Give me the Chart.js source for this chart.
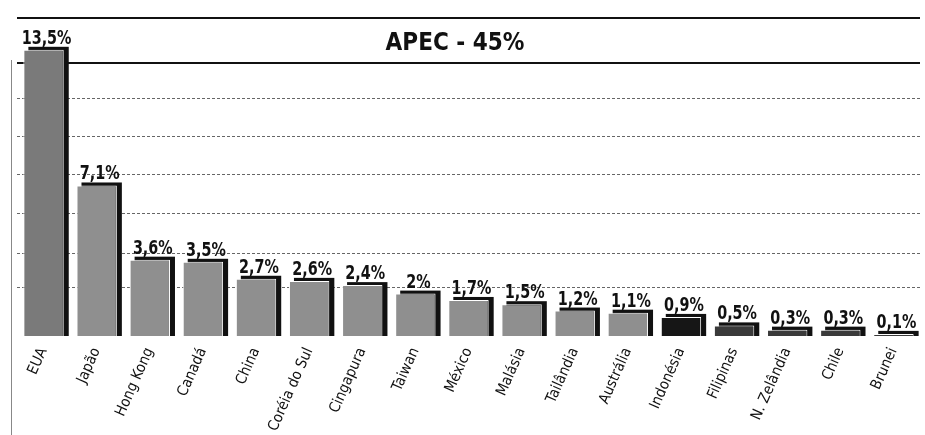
<!DOCTYPE html>
<html>
<head>
<meta charset="utf-8">
<script src="https://cdn.jsdelivr.net/npm/chart.js@4.4.0/dist/chart.umd.min.js"></script>
<style>
  body { margin: 0; background: #fff; }
  #wrap { width: 925px; height: 435px; }
</style>
</head>
<body>
<div id="wrap"><canvas id="apecChart" width="925" height="435"></canvas></div>
<script>
// APEC share values
const categories = ['EUA', 'Japão', 'Hong Kong', 'Canadá', 'China', 'Coréia do Sul', 'Cingapura', 'Taiwan',
    'México', 'Malásia', 'Tailândia', 'Austrália', 'Indonésia', 'Filipinas', 'N. Zelândia', 'Chile', 'Brunei'];
const shares = [13.5, 7.1, 3.6, 3.5, 2.7, 2.6, 2.4, 2, 1.7, 1.5, 1.2, 1.1, 0.9, 0.5, 0.3, 0.3, 0.1];
const chartTitle = 'APEC - 45%';
const gridValues = [2.3, 3.9, 5.8, 7.6, 9.4, 11.2, 12.9, 15];
const solidGridValues = [12.9, 15];

const narrow = "'Liberation Sans Narrow', 'DejaVu Sans Condensed', 'Liberation Sans', sans-serif";
Chart.defaults.font.family = narrow;

const barColors = categories.map((c, i) => {
    if (i === 0) return '#7a7a7a';
    if (i === 12) return '#161616';
    if (i > 12) return '#3a3a3a';
    return '#8f8f8f';
});

const fmt = v => String(v).replace('.', ',') + '%';

// squeezed text, the paper uses a condensed face
function narrowText(ctx, text, x, y, squeeze) {
    ctx.save();
    ctx.translate(x, y);
    ctx.scale(squeeze, 1);
    ctx.fillText(text, 0, 0);
    ctx.restore();
}

// dark offset block behind every bar (the print "shadow")
const shadowPlugin = {
    id: 'shadow',
    beforeDatasetsDraw(chart) {
        const ctx = chart.ctx;
        const meta = chart.getDatasetMeta(0);
        ctx.save();
        ctx.fillStyle = '#111';
        meta.data.forEach(bar => {
            const { x, y, base, width } = bar.getProps(['x', 'y', 'base', 'width'], true);
            ctx.fillRect(x - width / 2 + 5, y - 3, width, base - y + 3);
        });
        ctx.restore();
    }
};

// value labels, title and frame line
const labelPlugin = {
    id: 'labels',
    afterDatasetsDraw(chart) {
        const ctx = chart.ctx;
        const meta = chart.getDatasetMeta(0);
        const area = chart.chartArea;
        ctx.save();
        ctx.fillStyle = '#111';
        ctx.font = 'bold 19px ' + narrow;
        ctx.textAlign = 'center';
        ctx.textBaseline = 'alphabetic';
        meta.data.forEach((bar, i) => {
            narrowText(ctx, fmt(shares[i]), bar.x + 3, bar.y - 6, 0.84);
        });

        ctx.font = 'bold 24px ' + narrow;
        ctx.fillText(chartTitle, 455, area.top + 32);

        ctx.strokeStyle = '#888';
        ctx.lineWidth = 1;
        ctx.beginPath();
        ctx.moveTo(11.5, area.top + 42);
        ctx.lineTo(11.5, chart.height);
        ctx.stroke();
        ctx.restore();
    }
};

const ctx = document.getElementById('apecChart').getContext('2d');
const apecChart = new Chart(ctx, {
    type: 'bar',
    data: {
        labels: categories,
        datasets: [{
            label: 'APEC',
            data: shares,
            backgroundColor: barColors,
            borderColor: '#ffffff',
            borderWidth: 1,
            barPercentage: 0.76,
            categoryPercentage: 1
        }]
    },
    options: {
        responsive: false,
        animation: false,
        layout: {
            padding: { top: 18, left: 17, right: 5, bottom: 0 }
        },
        scales: {
            x: {
                grid: { display: false, drawTicks: false },
                border: { display: false },
                ticks: {
                    color: '#111',
                    font: { size: 15 },
                    minRotation: 66,
                    maxRotation: 66,
                    autoSkip: false,
                    padding: 9
                },
                afterFit: scale => { scale.height = 99; }
            },
            y: {
                min: 0,
                max: 15,
                afterBuildTicks: scale => {
                    scale.ticks = gridValues.map(v => ({ value: v }));
                },
                afterFit: scale => { scale.width = 0; },
                ticks: { display: false },
                grid: {
                    drawTicks: false,
                    color: c => solidGridValues.includes(c.tick && c.tick.value) ? '#111' : '#666',
                    lineWidth: c => solidGridValues.includes(c.tick && c.tick.value) ? 2 : 1
                },
                border: {
                    display: false,
                    dash: c => solidGridValues.includes(c.tick && c.tick.value) ? [] : [3, 2]
                }
            }
        },
        plugins: {
            legend: { display: false },
            tooltip: { enabled: false }
        }
    },
    plugins: [shadowPlugin, labelPlugin]
});
</script>
</body>
</html>
